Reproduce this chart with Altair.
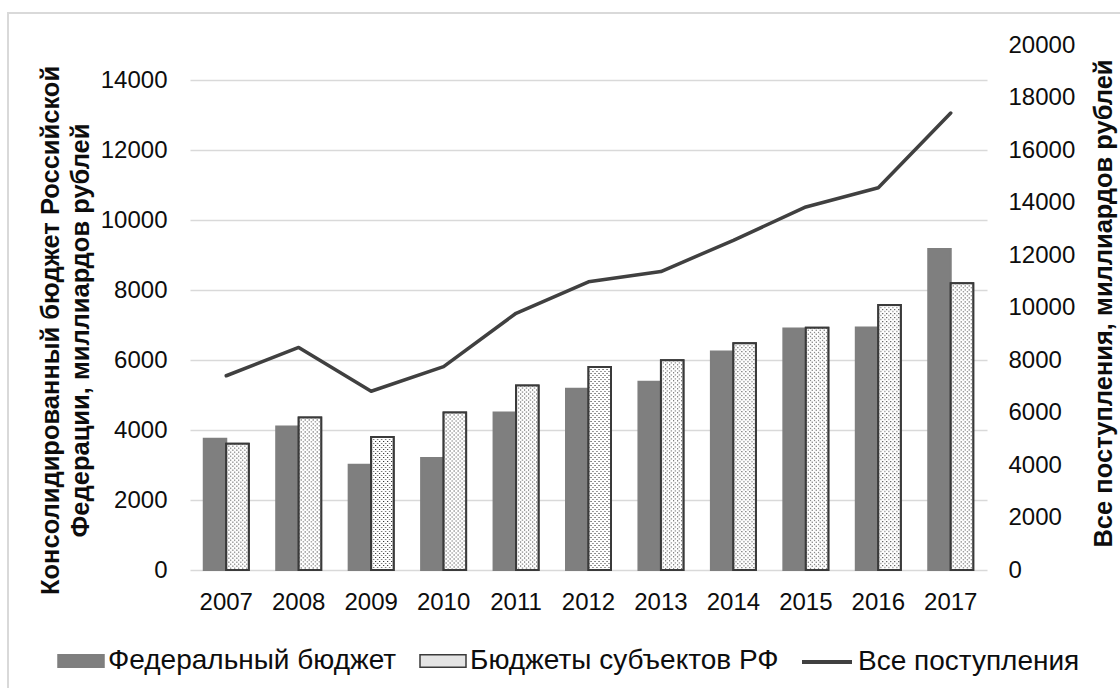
import base64

import altair as alt
import pandas as pd

# Revenue of the consolidated budget of the Russian Federation, bln rubles
years = ["2007", "2008", "2009", "2010", "2011", "2012", "2013", "2014", "2015", "2016", "2017"]
federal = [3750, 4100, 3010, 3200, 4500, 5180, 5380, 6240, 6900, 6930, 9170]
regional = [3610, 4360, 3800, 4500, 5270, 5800, 5990, 6480, 6920, 7570, 8190]
total = [7400, 8480, 6810, 7750, 9780, 10980, 11370, 12560, 13830, 14560, 17410]

FED = "Федеральный бюджет"
REG = "Бюджеты субъектов РФ"
TOT = "Все поступления"

left_ticks = list(range(0, 14001, 2000))
right_ticks = list(range(0, 20001, 2000))

bars_df = pd.DataFrame({
    "year": years * 2,
    "series": [FED] * len(years) + [REG] * len(years),
    "value": federal + regional,
})
line_df = pd.DataFrame({"year": years, "series": [TOT] * len(years), "value": total})

FONT = "Liberation Sans"
TEXT = "#0d0d0d"
GRID = "#d9d9d9"
FED_FILL = "#7f7f7f"
DARK = "#3a3a3a"
TICK_SIZE = 24
TITLE_SIZE = 25.5
LEGEND_SIZE = 28

# small dotted tile used as the texture of the regional bars
dots_svg = (
    '<svg xmlns="http://www.w3.org/2000/svg" width="100%" height="100%">'
    '<defs><pattern id="d" width="4" height="4" patternUnits="userSpaceOnUse">'
    '<rect width="4" height="4" fill="#ffffff"/>'
    '<rect x="0" y="0" width="1" height="1" fill="#2b2b2b"/>'
    '<rect x="2" y="2" width="1" height="1" fill="#2b2b2b"/>'
    '</pattern></defs>'
    '<rect width="100%" height="100%" fill="url(#d)"/></svg>'
)
DOTS = "data:image/svg+xml;base64," + base64.b64encode(dots_svg.encode()).decode()

x_enc = alt.X(
    "year:N",
    title=None,
    sort=years,
    scale=alt.Scale(paddingInner=0.379, paddingOuter=0.19),
    axis=alt.Axis(
        labelAngle=0, labelFontSize=TICK_SIZE, labelFont=FONT, labelColor=TEXT,
        labelPadding=20, domain=False, ticks=False, tickSize=0,
    ),
)
xoff_enc = alt.XOffset("series:N", scale=alt.Scale(domain=[FED, REG]))

y_left = alt.Y(
    "value:Q",
    stack=None,
    scale=alt.Scale(domain=[0, 15000], nice=False),
    axis=alt.Axis(
        values=left_ticks, format="d", grid=True, gridColor=GRID, gridWidth=1.3,
        domain=False, ticks=False, tickSize=0, labelPadding=23,
        labelFontSize=TICK_SIZE, labelFont=FONT, labelColor=TEXT,
        title=["Консолидированный бюджет Российской", "Федерации, миллиардов рублей"],
        titleFont=FONT, titleFontSize=TITLE_SIZE, titleFontWeight="bold", titleColor=TEXT,
        titleAngle=270, titleAlign="center", titleBaseline="top",
        titleX=-152, titleY=285, titleLineHeight=30,
    ),
)

bar_legend = alt.Legend(
    title=None, orient="none", direction="horizontal", legendX=-133, legendY=592,
    symbolType="M-1,-0.27H1V0.27H-1Z", symbolSize=2116, symbolStrokeWidth=1.5,
    labelFont=FONT, labelFontSize=LEGEND_SIZE, labelColor=TEXT, labelOffset=3,
    labelLimit=600, columnPadding=20, padding=0,
)

base = alt.Chart(bars_df)

bars = base.mark_bar(strokeWidth=2).encode(
    x=x_enc,
    xOffset=xoff_enc,
    y=y_left,
    fill=alt.Fill("series:N", scale=alt.Scale(domain=[FED, REG], range=[FED_FILL, "#e4e4e4"]), legend=bar_legend),
    stroke=alt.Stroke("series:N", scale=alt.Scale(domain=[FED, REG], range=[FED_FILL, DARK]), legend=bar_legend),
)

texture = base.transform_filter(alt.datum.series == REG).mark_image(aspect=False).encode(
    x=x_enc,
    xOffset=xoff_enc,
    y=alt.Y("value:Q", stack=None),
    y2=alt.datum(0),
    url=alt.value(DOTS),
)

outline = base.transform_filter(alt.datum.series == REG).mark_bar(
    fillOpacity=0, stroke=DARK, strokeWidth=2
).encode(x=x_enc, xOffset=xoff_enc, y=alt.Y("value:Q", stack=None))

line = alt.Chart(line_df).mark_line(strokeWidth=3.5, strokeJoin="round", strokeCap="round").encode(
    x=x_enc,
    y=alt.Y(
        "value:Q",
        scale=alt.Scale(domain=[0, 20000], nice=False),
        axis=alt.Axis(
            orient="right", values=right_ticks, format="d", grid=False,
            domain=False, ticks=False, tickSize=0, labelPadding=21,
            labelFontSize=TICK_SIZE, labelFont=FONT, labelColor=TEXT,
            title="Все поступления, миллиардов рублей",
            titleFont=FONT, titleFontSize=TITLE_SIZE, titleFontWeight="bold", titleColor=TEXT,
            titleAngle=270, titleAlign="center", titleBaseline="top",
            titleX=104, titleY=258,
        ),
    ),
    color=alt.Color(
        "series:N",
        scale=alt.Scale(domain=[TOT], range=["#404040"]),
        legend=alt.Legend(
            title=None, orient="none", direction="horizontal", legendX=610, legendY=590,
            symbolType="stroke", symbolSize=2500, symbolStrokeWidth=4,
            labelFont=FONT, labelFontSize=LEGEND_SIZE, labelColor=TEXT, labelOffset=4,
            labelLimit=600, padding=0,
        ),
    ),
)

# light frame around the whole figure (left and top edges)
frame_df = pd.DataFrame({"k": [0]})
frame_left = alt.Chart(frame_df).mark_rule(color=GRID, strokeWidth=2).encode(
    x=alt.value(-182), y=alt.value(-32), y2=alt.value(700)
)
frame_top = alt.Chart(frame_df).mark_rule(color=GRID, strokeWidth=2).encode(
    x=alt.value(-183), x2=alt.value(1000), y=alt.value(-32)
)

chart = (
    alt.layer(alt.layer(bars, texture, outline), line, frame_left, frame_top)
    .resolve_scale(y="independent")
    .properties(
        width=797,
        height=525,
        padding={"left": 190, "top": 45, "right": 133, "bottom": 118},
        autosize=alt.AutoSizeParams(type="none"),
        background="white",
    )
    .configure_view(stroke="transparent")
)

chart.save("out.html", embed_options={"renderer": "svg", "actions": False})
